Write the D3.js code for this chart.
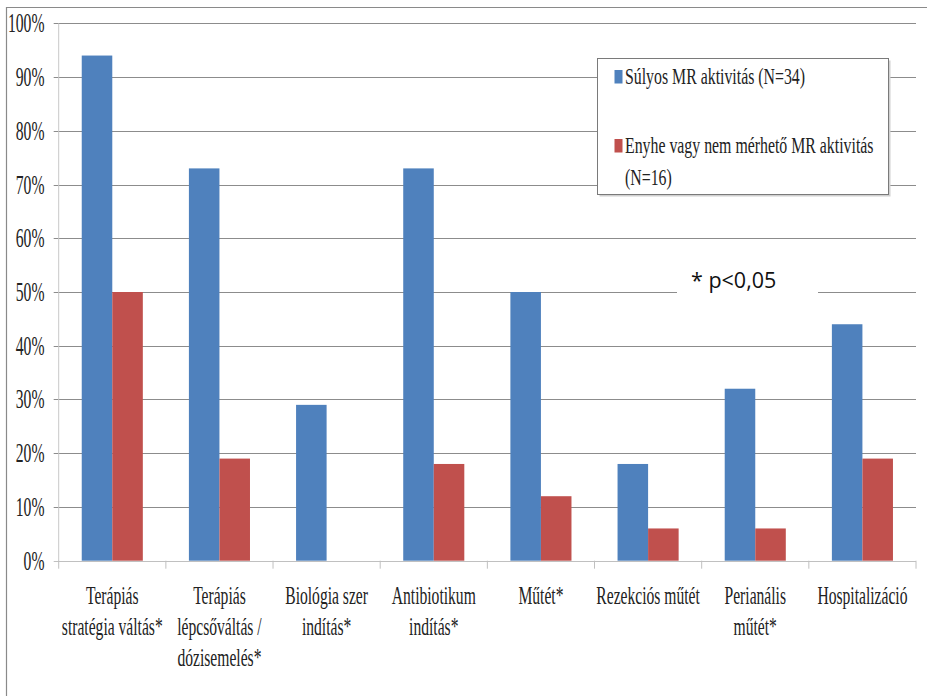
<!DOCTYPE html>
<html>
<head>
<meta charset="utf-8">
<script src="https://cdn.jsdelivr.net/npm/d3@7"></script>
<style>
  body { margin: 0; background: #fff; }
  svg { display: block; }
</style>
</head>
<body>
<div id="chart"></div>
<script>
// data
var categories = ["Terápiás stratégia váltás*", "Terápiás lépcsőváltás / dózisemelés*", "Biológia szer indítás*",
  "Antibiotikum indítás*", "Műtét*", "Rezekciós műtét", "Perianális műtét*", "Hospitalizáció"]
var categoryLines = [
  ["Terápiás", "stratégia váltás*"],
  ["Terápiás", "lépcsőváltás /", "dózisemelés*"],
  ["Biológia szer", "indítás*"],
  ["Antibiotikum", "indítás*"],
  ["Műtét*"],
  ["Rezekciós műtét"],
  ["Perianális", "műtét*"],
  ["Hospitalizáció"]
]
var seriesNames = ["Súlyos MR aktivitás (N=34)", "Enyhe vagy nem mérhető MR aktivitás (N=16)"]
var severeValues = [0.94, 0.73, 0.29, 0.73, 0.50, 0.18, 0.32, 0.44]
var mildValues = [0.50, 0.19, 0, 0.18, 0.12, 0.06, 0.06, 0.19]
var yTicks = [0, 0.1, 0.2, 0.3, 0.4, 0.5, 0.6, 0.7, 0.8, 0.9, 1]
var colors = ["#4F81BD", "#C0504D"]

var width = 927, height = 696
var serifFont = "'Liberation Serif', 'Times New Roman', serif"

var svg = d3.select("#chart").append("svg")
  .attr("width", width)
  .attr("height", height)

/* outer frame */
svg.append("line").attr("x1", 6).attr("x2", width).attr("y1", 7.5).attr("y2", 7.5)
  .style("stroke", "#8a8a8a").style("stroke-width", 1.2)
svg.append("line").attr("x1", 6.5).attr("x2", 6.5).attr("y1", 7).attr("y2", height)
  .style("stroke", "#8a8a8a").style("stroke-width", 1.2)

/* scales */
var y = d3.scaleLinear().domain([0, 1]).range([560.7, 23.3])
var x0 = d3.scaleBand().domain(categories).range([58.7, 916])
  .paddingInner(0.43).paddingOuter(0.215)
var x1 = d3.scaleBand().domain(seriesNames).range([0, x0.bandwidth()])
var plotLeft = 58.7, plotRight = 916

// the source font is a narrow Times, so squeeze Liberation Serif sideways
function squeezed(g, x, yy, txt, size, sx, anchor) {
  return g.append("text")
    .attr("transform", "translate(" + x + "," + yy + ") scale(" + sx + ",1)")
    .attr("text-anchor", anchor)
    .style("font-family", serifFont)
    .style("font-size", size + "px")
    .style("fill", "#222")
    .text(txt)
}

/* grid */
svg.selectAll(".grid").data(yTicks.filter(function(d) { return d > 0 }))
  .enter().append("line")
  .attr("class", "grid")
  .attr("x1", plotLeft - 5).attr("x2", plotRight)
  .attr("y1", function(d) { return Math.round(y(d)) + 0.5 })
  .attr("y2", function(d) { return Math.round(y(d)) + 0.5 })
  .style("stroke", "#8c8c8c").style("stroke-width", 1)

/* y axis line + labels */
svg.append("line").attr("x1", plotLeft).attr("x2", plotLeft)
  .attr("y1", y(1)).attr("y2", y(0) + 0.5)
  .style("stroke", "#c8c8c8").style("stroke-width", 1)
yTicks.forEach(function(t) {
  squeezed(svg, 44.5, y(t) + 9, d3.format(".0%")(t), 27, 0.58, "end")
})

/* bars */
var groups = svg.selectAll(".cat").data(categories).enter().append("g")
  .attr("class", "cat")
  .attr("transform", function(d) { return "translate(" + x0(d) + ",0)" })
groups.selectAll("rect")
  .data(function(d, i) { return [severeValues[i], mildValues[i]] })
  .enter().append("rect")
  .attr("x", function(d, j) { return x1(seriesNames[j]) })
  .attr("width", x1.bandwidth())
  .attr("y", function(d) { return y(d) })
  .attr("height", function(d) { return y(0) - y(d) })
  .style("fill", function(d, j) { return colors[j] })

/* x axis */
svg.append("line").attr("x1", plotLeft - 5).attr("x2", plotRight)
  .attr("y1", Math.round(y(0)) + 0.5).attr("y2", Math.round(y(0)) + 0.5)
  .style("stroke", "#c0c0c0").style("stroke-width", 1)
var tickXs = categories.map(function(c) { return x0(c) - x0.step() * x0.paddingOuter() })
tickXs.push(plotRight)
tickXs.forEach(function(tx) {
  svg.append("line").attr("x1", tx).attr("x2", tx)
    .attr("y1", y(0)).attr("y2", y(0) + 8)
    .style("stroke", "#c0c0c0").style("stroke-width", 1)
})
categoryLines.forEach(function(lines, i) {
  var cx = x0(categories[i]) + x0.bandwidth() / 2
  lines.forEach(function(line, k) {
    squeezed(svg, cx, 604 + k * 31, line, 26, 0.6, "middle")
  })
})

/* legend */
var legend = svg.append("g")
legend.append("rect").attr("x", 599.5).attr("y", 60.5).attr("width", 291).attr("height", 136)
  .style("fill", "#d0d0d0")
legend.append("rect").attr("x", 597.5).attr("y", 58.5).attr("width", 291).attr("height", 136)
  .style("fill", "#fff").style("stroke", "#7a7a7a").style("stroke-width", 1)
var legendRows = [
  { lines: ["Súlyos MR aktivitás (N=34)"], y: 84 },
  { lines: ["Enyhe vagy nem mérhető MR aktivitás", "(N=16)"], y: 153 }
]
legendRows.forEach(function(row, i) {
  legend.append("rect").attr("x", 614.5).attr("y", row.y - 14).attr("width", 8).attr("height", 13.5)
    .style("fill", colors[i])
  row.lines.forEach(function(line, k) {
    squeezed(legend, 625, row.y + k * 32, line, 24, 0.66, "start")
  })
})

/* significance note */
svg.append("rect").attr("x", 677).attr("y", 266).attr("width", 141).attr("height", 34)
  .style("fill", "#fff")
svg.append("text")
  .attr("x", 691).attr("y", 288)
  .style("font-family", "'Open Sans', sans-serif")
  .style("font-size", "21.5px")
  .style("fill", "#111")
  .text("* p<0,05")
</script>
</body>
</html>
